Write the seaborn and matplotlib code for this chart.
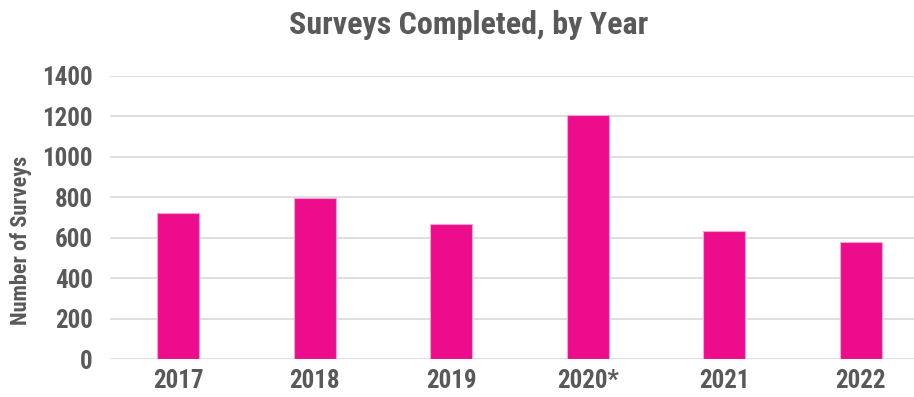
import matplotlib
matplotlib.use("Agg")
import matplotlib.pyplot as plt
import seaborn as sns
import pandas as pd
from matplotlib import font_manager

years = ["2017", "2018", "2019", "2020*", "2021", "2022"]
surveys = [720, 797, 665, 1205, 633, 578]
y_ticks = [0, 200, 400, 600, 800, 1000, 1200, 1400]

title = "Surveys Completed, by Year"
y_label = "Number of Surveys"

bar_color = "#EC0C8C"
text_color = "#595959"
grid_color = "#D9D9D9"

sns.set_theme(style="white")

# Prefer a condensed sans face, falling back to a regular one
available = {f.name for f in font_manager.fontManager.ttflist}
preferred = ["Liberation Sans Narrow", "Arial Narrow", "Roboto Condensed",
             "PT Sans Narrow", "Archivo Narrow", "Liberation Sans"]
family = next(f for f in preferred if f in available)
plt.rcParams["font.family"] = [family, "DejaVu Sans"]

df = pd.DataFrame({"year": years, "surveys": surveys})

fig = plt.figure(figsize=(9.14, 3.97), dpi=100)
ax = fig.add_axes([0.1204, 0.0957, 0.8796, 0.7136])

sns.barplot(data=df, x="year", y="surveys", color=bar_color, saturation=1,
            width=0.31, edgecolor="#F6A3CF", linewidth=0.8, ax=ax, zorder=3)

ax.set_ylim(0, 1400)
ax.set_xlim(-0.5, 5.39)
ax.set_yticks(y_ticks)
ax.set_yticklabels([str(v) for v in y_ticks])
ax.yaxis.grid(True, color=grid_color, linewidth=1.2, zorder=0)
ax.xaxis.grid(False)
for s in ax.spines.values():
    s.set_visible(False)
ax.tick_params(axis="both", length=0, colors=text_color, labelsize=18)
ax.tick_params(axis="y", pad=12.5)
ax.tick_params(axis="x", pad=7)
for lab in ax.get_xticklabels() + ax.get_yticklabels():
    lab.set_fontweight("bold")

ax.set_xlabel("")
ax.set_ylabel(y_label, color=text_color, fontsize=16, fontweight="bold")
ax.yaxis.set_label_coords(-0.097, 0.42)
fig.suptitle(title, x=0.513, y=0.975, color=text_color, fontsize=23, fontweight="bold")

fig.savefig("out.png", dpi=100)
